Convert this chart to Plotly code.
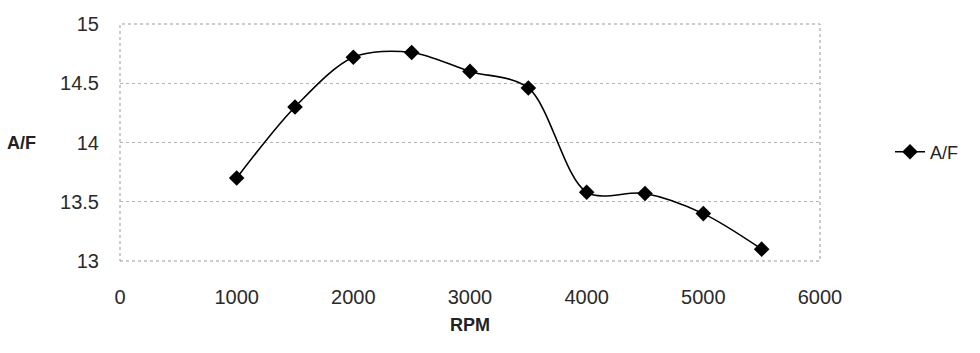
import plotly.graph_objects as go

rpm = [1000, 1500, 2000, 2500, 3000, 3500, 4000, 4500, 5000, 5500]
af = [13.7, 14.3, 14.72, 14.76, 14.6, 14.46, 13.58, 13.57, 13.4, 13.1]
x_ticks = [0, 1000, 2000, 3000, 4000, 5000, 6000]
y_ticks = [13, 13.5, 14, 14.5, 15]

fig = go.Figure()
fig.add_trace(go.Scatter(
    x=rpm, y=af, mode="lines+markers", name="A/F",
    line=dict(color="black", width=1.6, shape="spline", smoothing=0.9),
    marker=dict(symbol="diamond", size=12, color="black"),
))

font_fam = "Liberation Sans, Arial, sans-serif"
fig.update_layout(
    width=980, height=353,
    margin=dict(l=120, r=160, t=24, b=92),
    paper_bgcolor="white", plot_bgcolor="white",
    font=dict(family=font_fam, color="#222", size=18),
    showlegend=True,
    legend=dict(x=1.1, y=0.46, xanchor="left", yanchor="middle",
                font=dict(size=18, color="#222"), bgcolor="rgba(0,0,0,0)"),
    xaxis=dict(range=[0, 6000], tickvals=x_ticks, ticktext=[str(v) for v in x_ticks],
               showgrid=False, zeroline=False, showline=False, ticks="",
               tickfont=dict(size=20, color="#2a2a2a"), ticklabelstandoff=22),
    yaxis=dict(range=[13, 15], tickvals=y_ticks, ticktext=["13", "13.5", "14", "14.5", "15"],
               showgrid=True, gridcolor="#b5b5b5", griddash="dot", gridwidth=1,
               zeroline=False, showline=False, ticks="",
               tickfont=dict(size=20, color="#2a2a2a"), ticklabelstandoff=20),
    shapes=[dict(type="rect", xref="paper", yref="paper", x0=0, y0=0, x1=1, y1=1,
                 line=dict(color="#999", width=1, dash="dot"), layer="below")],
    annotations=[
        dict(text="<b>A/F</b>", xref="paper", yref="y", x=-0.14, y=14,
             showarrow=False, xanchor="center", yanchor="middle",
             font=dict(size=18, color="#222")),
        dict(text="<b>RPM</b>", xref="x", yref="paper", x=3000, y=-0.27,
             showarrow=False, xanchor="center", yanchor="middle",
             font=dict(size=18, color="#222")),
    ],
)

fig.write_html("out.html")
